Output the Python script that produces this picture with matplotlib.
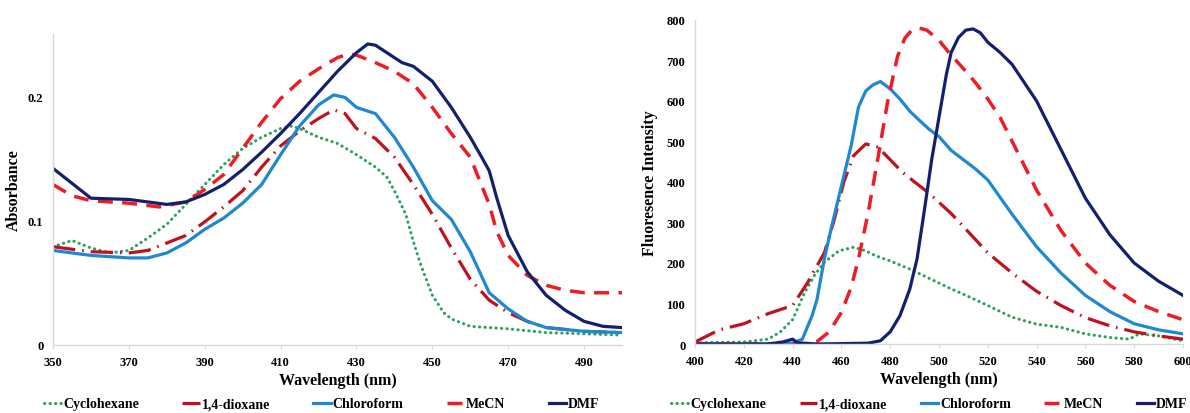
import numpy as np
import matplotlib.pyplot as plt

# --- Absorbance data (left panel) ---
abs_cyclohexane_x = [350, 355, 360, 365, 370, 375, 380, 385, 390, 395, 400, 405, 410, 413, 415, 420, 425, 430, 435, 438, 440, 443, 445, 447, 450, 453, 455, 460, 470, 480, 490, 500]
abs_cyclohexane_y = [0.079, 0.084, 0.078, 0.074, 0.076, 0.086, 0.097, 0.113, 0.129, 0.145, 0.158, 0.167, 0.174, 0.176, 0.174, 0.167, 0.162, 0.153, 0.143, 0.135, 0.124, 0.105, 0.083, 0.064, 0.040, 0.026, 0.021, 0.015, 0.013, 0.010, 0.009, 0.008]

abs_dioxane_x = [350, 360, 370, 375, 380, 385, 390, 395, 400, 405, 410, 415, 420, 424, 427, 430, 435, 440, 445, 450, 455, 460, 465, 470, 475, 480, 490, 500]
abs_dioxane_y = [0.079, 0.075, 0.074, 0.076, 0.082, 0.088, 0.099, 0.111, 0.124, 0.143, 0.160, 0.172, 0.182, 0.189, 0.186, 0.174, 0.166, 0.151, 0.129, 0.105, 0.078, 0.053, 0.036, 0.026, 0.019, 0.014, 0.011, 0.010]

abs_chloroform_x = [350, 360, 370, 375, 380, 385, 390, 395, 400, 405, 410, 415, 420, 424, 427, 430, 435, 440, 445, 450, 455, 460, 465, 470, 475, 480, 490, 500]
abs_chloroform_y = [0.076, 0.072, 0.070, 0.070, 0.074, 0.082, 0.093, 0.102, 0.114, 0.129, 0.153, 0.176, 0.193, 0.201, 0.199, 0.191, 0.186, 0.167, 0.143, 0.116, 0.101, 0.075, 0.042, 0.029, 0.019, 0.014, 0.011, 0.010]

abs_mecn_x = [350, 355, 360, 370, 378, 385, 390, 395, 400, 405, 410, 415, 420, 425, 428, 430, 435, 440, 445, 450, 455, 460, 465, 467, 470, 475, 480, 485, 490, 500]
abs_mecn_y = [0.129, 0.120, 0.116, 0.114, 0.111, 0.115, 0.125, 0.137, 0.158, 0.179, 0.198, 0.212, 0.222, 0.231, 0.234, 0.233, 0.227, 0.220, 0.210, 0.191, 0.170, 0.151, 0.113, 0.091, 0.072, 0.056, 0.048, 0.044, 0.042, 0.042]

abs_dmf_x = [350, 360, 370, 375, 380, 385, 390, 395, 400, 405, 410, 415, 420, 425, 430, 433, 435, 440, 442, 445, 450, 455, 460, 463, 465, 467, 470, 475, 480, 485, 490, 495, 500]
abs_dmf_y = [0.142, 0.118, 0.117, 0.115, 0.113, 0.115, 0.121, 0.129, 0.141, 0.155, 0.170, 0.186, 0.203, 0.220, 0.235, 0.242, 0.241, 0.231, 0.227, 0.224, 0.212, 0.191, 0.167, 0.151, 0.140, 0.118, 0.088, 0.059, 0.040, 0.028, 0.019, 0.015, 0.014]

# --- Fluorescence data (right panel) ---
fl_cyclohexane_x = [400, 420, 430, 435, 440, 445, 449, 453, 459, 465, 470, 474, 480, 488, 495, 505, 510, 520, 530, 540, 550, 560, 570, 578, 582, 590, 600]
fl_cyclohexane_y = [3, 5, 12, 30, 60, 128, 170, 202, 230, 239, 230, 218, 205, 185, 165, 136, 123, 95, 66, 49, 41, 25, 16, 12, 25, 20, 8]

fl_dioxane_x = [400, 410, 420, 430, 440, 446, 453, 457, 461, 465, 470, 475, 480, 485, 490, 496, 505, 510, 520, 530, 540, 550, 560, 570, 580, 590, 600]
fl_dioxane_y = [5, 35, 50, 75, 95, 150, 225, 305, 400, 465, 494, 486, 455, 424, 400, 372, 322, 290, 225, 175, 130, 95, 65, 45, 30, 20, 12]

fl_chloroform_x = [400, 430, 440, 444, 448, 450, 453, 456, 460, 464, 467, 470, 473, 476, 480, 484, 488, 492, 496, 500, 505, 510, 515, 520, 530, 540, 550, 560, 570, 580, 590, 600]
fl_chloroform_y = [0, 0, 2, 12, 70, 110, 210, 290, 390, 490, 585, 625, 640, 648, 630, 605, 575, 552, 530, 512, 478, 455, 432, 405, 320, 240, 175, 120, 80, 50, 35, 25]

fl_mecn_x = [400, 445, 450, 455, 460, 464, 467, 471, 475, 479, 483, 486, 489, 492, 495, 500, 504, 510, 515, 520, 525, 530, 540, 550, 560, 570, 580, 590, 600]
fl_mecn_y = [0, 0, 6, 30, 78, 140, 210, 325, 460, 600, 710, 755, 776, 780, 775, 750, 720, 680, 645, 605, 560, 500, 380, 280, 200, 145, 105, 80, 60]

fl_dmf_x = [400, 430, 436, 440, 442, 450, 471, 476, 480, 484, 488, 491, 494, 497, 500, 503, 505, 508, 511, 514, 517, 520, 525, 530, 540, 550, 560, 570, 580, 590, 600]
fl_dmf_y = [0, 0, 5, 12, 3, 0, 2, 8, 30, 70, 135, 210, 330, 455, 560, 665, 720, 757, 775, 778, 768, 745, 720, 690, 600, 480, 360, 270, 200, 155, 120]

labels = ['Cyclohexane', '1,4-dioxane', 'Chloroform', 'MeCN', 'DMF']
abs_ticks = [350, 370, 390, 410, 430, 450, 470, 490]
fl_ticks = [400, 420, 440, 460, 480, 500, 520, 540, 560, 580, 600]

# Linjestiler for hvert løsemiddel
styles = [
    dict(color='#2ca25f', lw=2.2, ls=(0, (0.1, 1.7)), dash_capstyle='round'),
    dict(color='#c0111f', lw=2.3, ls=(0, (7, 2.2, 0.5, 2.2))),
    dict(color='#1e88d0', lw=2.3, ls='-'),
    dict(color='#ee1c24', lw=2.5, ls=(0, (4.3, 2.7))),
    dict(color='#13206b', lw=2.3, ls='-'),
]

plt.rcParams['font.family'] = ['Liberation Serif', 'DejaVu Serif']
plt.rcParams['font.weight'] = 'bold'

fig = plt.figure(figsize=(11.9, 4.14), dpi=100)
ax1 = fig.add_axes([53/1190, 1-346/414, (622-53)/1190, (346-35)/414])
ax2 = fig.add_axes([695/1190, 1-345/414, (1183-695)/1190, (345-21)/414])

abs_series = [(abs_cyclohexane_x, abs_cyclohexane_y), (abs_dioxane_x, abs_dioxane_y),
              (abs_chloroform_x, abs_chloroform_y), (abs_mecn_x, abs_mecn_y), (abs_dmf_x, abs_dmf_y)]
fl_series = [(fl_cyclohexane_x, fl_cyclohexane_y), (fl_dioxane_x, fl_dioxane_y),
             (fl_chloroform_x, fl_chloroform_y), (fl_mecn_x, fl_mecn_y), (fl_dmf_x, fl_dmf_y)]

for (x, y), st, lab in zip(abs_series, styles, labels):
    ax1.plot(x, y, label=lab, solid_joinstyle='round', **st)
for (x, y), st, lab in zip(fl_series, styles, labels):
    ax2.plot(x, y, label=lab, solid_joinstyle='round', **st)

ax1.set_xlim(350, 500)
ax1.set_ylim(0, 0.25)
ax1.set_xticks(abs_ticks)
ax1.set_yticks([0, 0.1, 0.2])
ax1.set_yticklabels(['0', '0.1', '0.2'])
ax1.set_ylabel('Absorbance', fontsize=11.5, fontweight='bold', labelpad=4)

ax2.set_xlim(400, 600)
ax2.set_ylim(0, 800)
ax2.set_xticks(fl_ticks)
ax2.set_yticks(range(0, 801, 100))
ax2.set_ylabel('Fluoresence Intensity', fontsize=11.5, fontweight='bold', labelpad=6)

for ax, colsp, x0 in [(ax1, 3.1, 44), (ax2, 2.4, 671)]:
    ax.set_xlabel('Wavelength (nm)', fontsize=11.5, fontweight='bold', labelpad=3)
    for s in ['top', 'right']:
        ax.spines[s].set_visible(False)
    for s in ['left', 'bottom']:
        ax.spines[s].set_color('#d9d9d9')
        ax.spines[s].set_linewidth(1.0)
    ax.tick_params(axis='x', length=3, color='#d9d9d9', labelsize=9, pad=5)
    ax.tick_params(axis='y', length=0, labelsize=9, pad=7)
    for t in ax.get_xticklabels() + ax.get_yticklabels():
        t.set_fontweight('bold')
    h, l = ax.get_legend_handles_labels()
    fig.legend(h, l, loc='center left', bbox_to_anchor=(x0/1190, 1-405/414), ncol=5,
               frameon=False, fontsize=10, handlelength=1.25, handletextpad=0.15,
               columnspacing=colsp, borderpad=0, borderaxespad=0)

fig.savefig('out.png', dpi=100)
